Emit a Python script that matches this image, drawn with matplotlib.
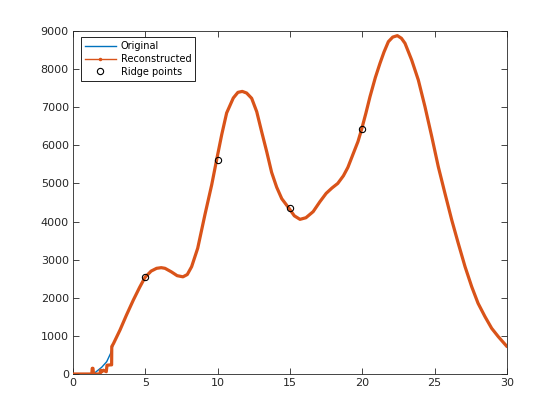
import matplotlib
matplotlib.use("Agg")
import matplotlib.pyplot as plt
from matplotlib.lines import Line2D

# Reconstructed signal
rec_x = [0, 1.30, 1.33, 1.38, 1.42, 1.87, 1.9, 2.0, 2.1, 2.3, 2.35, 2.6, 2.67, 2.68, 2.8,
         3.25, 3.7, 4.17, 4.6, 4.98, 5.4, 5.78, 6.1, 6.36, 6.8, 7.2, 7.6, 7.9, 8.2, 8.62,
         9.12, 9.59, 9.93, 10.28, 10.62, 11.08, 11.4, 11.7, 12.0, 12.35, 12.7, 13.04, 13.39,
         13.73, 14.08, 14.43, 14.93, 15.3, 15.69, 16.1, 16.6, 17.07, 17.5, 17.9, 18.3, 18.69,
         19.0, 19.38, 19.7, 19.95, 20.25, 20.53, 20.9, 21.22, 21.5, 21.8, 22.1, 22.42, 22.7,
         22.95, 23.41, 23.87, 24.33, 24.8, 25.25, 25.71, 26.18, 26.63, 27.1, 27.56, 28.0,
         28.48, 28.94, 29.4, 30.0]
rec_y = [0, 0, 150, 150, 0, 0, 100, 60, 100, 60, 230, 240, 240, 720, 800,
         1155, 1550, 1940, 2270, 2537, 2700, 2773, 2790, 2773, 2680, 2580, 2550, 2610, 2816, 3300,
         4181, 4968, 5623, 6280, 6849, 7242, 7390, 7415, 7373, 7234, 6883, 6358, 5833,
         5290, 4900, 4600, 4348, 4150, 4058, 4100, 4260, 4522, 4740, 4880, 5000, 5200,
         5420, 5790, 6100, 6420, 6850, 7277, 7780, 8152, 8450, 8720, 8840, 8878, 8810,
         8677, 8239, 7714, 7014, 6227, 5440, 4741, 4041, 3430, 2816, 2291, 1855,
         1504, 1199, 979, 720]

# Original signal: differs only at the start
orig_head_x = [0, 1.5, 1.52, 1.98, 2.33, 2.6, 2.74]
orig_head_y = [0, 0, 35, 175, 323, 542, 717]
tail_start = 14  # index in rec_x where original and reconstructed coincide
orig_x = orig_head_x + rec_x[tail_start:]
orig_y = orig_head_y + rec_y[tail_start:]

ridge_x = [5, 10, 15, 20]
ridge_y = [2545, 5615, 4360, 6425]

blue = "#0072BD"
orange = "#D95319"

plt.rcParams['font.family'] = ['DejaVu Sans']
fig = plt.figure(figsize=(5.6, 4.2), dpi=100)
ax = fig.add_axes([73/560, 46/420, 434/560, 343/420])

ax.plot(orig_x, orig_y, color=blue, lw=1.0, zorder=2)
ax.plot(rec_x, rec_y, color=orange, lw=2.3, zorder=3, solid_joinstyle='round',
        solid_capstyle='round')
ax.plot(ridge_x, ridge_y, linestyle='none', marker='o', ms=4.5, mfc='none',
        mec='black', mew=0.8, zorder=4)

ax.set_xlim(0, 30)
ax.set_ylim(0, 9000)
ax.set_xticks([0, 5, 10, 15, 20, 25, 30])
ax.set_yticks(range(0, 9001, 1000))
ax.tick_params(direction='in', top=True, right=True, length=4, width=0.6,
               labelsize=8, colors='#262626', pad=3)
for s in ax.spines.values():
    s.set_linewidth(0.6)
    s.set_color('#262626')

handles = [Line2D([], [], color=blue, lw=1.0),
           Line2D([], [], color=orange, lw=1.0, marker='.', ms=3),
           Line2D([], [], linestyle='none', marker='o', ms=4.5, mfc='none', mec='black', mew=0.8)]
leg = ax.legend(handles, ['Original', 'Reconstructed', 'Ridge points'], loc='upper left',
                bbox_to_anchor=(0.018, 0.982), fontsize=7, fancybox=False, framealpha=1,
                edgecolor='black', handlelength=3.2, borderpad=0.4, labelspacing=0.3,
                handletextpad=0.5, borderaxespad=0)
leg.get_frame().set_linewidth(0.6)

fig.savefig("out.png", dpi=100)
